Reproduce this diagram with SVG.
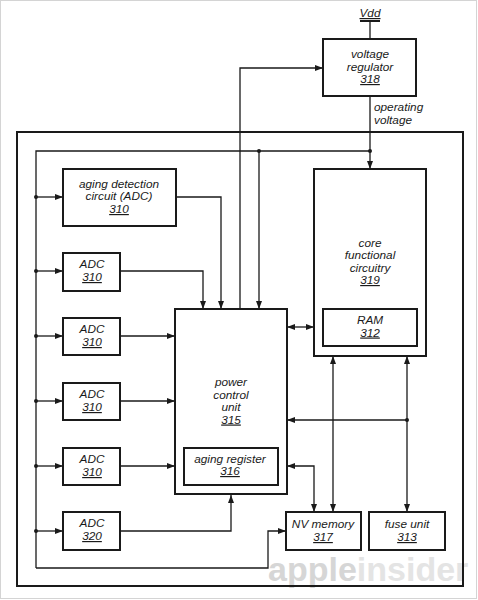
<svg xmlns="http://www.w3.org/2000/svg" width="478" height="600" viewBox="0 0 478 600">
<defs>
<marker id="ah" viewBox="0 0 8 6" refX="8" refY="3" markerWidth="8" markerHeight="6" markerUnits="userSpaceOnUse" orient="auto-start-reverse">
<path d="M0,0 L8,3 L0,6 z" fill="#1a1a1a"/>
</marker>
<style>
.box{fill:#fff;stroke:#1a1a1a;stroke-width:2}
.ln{fill:none;stroke:#1a1a1a;stroke-width:1.3}
.ar{marker-end:url(#ah)}
.bi{marker-start:url(#ah);marker-end:url(#ah)}
.dot{fill:#1a1a1a}
text{font-family:"Liberation Sans",Arial,sans-serif;font-style:italic;font-size:11.8px;fill:#1a1a1a;text-anchor:middle}
.u{text-decoration:underline}
.wm{font-style:normal;font-weight:bold;font-size:34px;text-anchor:start}
</style>
</defs>
<rect x="0" y="0" width="478" height="600" fill="#fff"/>
<rect x="0.5" y="0.5" width="476" height="598" fill="none" stroke="#d4d4d4" stroke-width="1"/>
<text class="wm" x="268" y="581"><tspan fill="#d6d6d6">apple</tspan><tspan fill="#e4e4e4">insider</tspan></text>
<g id="chip"><rect x="17" y="132" width="446" height="454" fill="none" stroke="#1a1a1a" stroke-width="2"/></g>
<g id="connectors">
<line class="ln" x1="360" y1="21" x2="380" y2="21" style="stroke-width:2"/>
<line class="ln" x1="370" y1="21" x2="370" y2="39"/>
<line class="ln ar" x1="370" y1="96" x2="370" y2="169"/>
<path class="ln" d="M36,568 V151 H370"/>
<line class="ln ar" x1="259" y1="151" x2="259" y2="309"/>
<path class="ln ar" d="M240,309 V68 H323"/>
<line class="ln ar" x1="36" y1="197" x2="63" y2="197"/>
<line class="ln ar" x1="36" y1="271" x2="63" y2="271"/>
<line class="ln ar" x1="36" y1="336" x2="63" y2="336"/>
<line class="ln ar" x1="36" y1="401" x2="63" y2="401"/>
<line class="ln ar" x1="36" y1="466" x2="63" y2="466"/>
<line class="ln ar" x1="36" y1="531" x2="63" y2="531"/>
<path class="ln ar" d="M176,197 H221 V309"/>
<path class="ln ar" d="M120,271 H203 V309"/>
<line class="ln ar" x1="120" y1="336" x2="175" y2="336"/>
<line class="ln ar" x1="120" y1="401" x2="175" y2="401"/>
<line class="ln ar" x1="120" y1="466" x2="175" y2="466"/>
<path class="ln ar" d="M120,531 H231 V495"/>
<line class="ln bi" x1="287" y1="327" x2="314" y2="327"/>
<line class="ln bi" x1="333" y1="356" x2="333" y2="512"/>
<line class="ln bi" x1="407" y1="356" x2="407" y2="512"/>
<line class="ln ar" x1="407" y1="420" x2="287" y2="420"/>
<path class="ln bi" d="M287,466 H314 V512"/>
<path class="ln ar" d="M36,568 H268 V531 H286"/>
<circle class="dot" cx="370" cy="151" r="2"/>
<circle class="dot" cx="259" cy="151" r="2"/>
<circle class="dot" cx="36" cy="197" r="2"/>
<circle class="dot" cx="36" cy="271" r="2"/>
<circle class="dot" cx="36" cy="336" r="2"/>
<circle class="dot" cx="36" cy="401" r="2"/>
<circle class="dot" cx="36" cy="466" r="2"/>
<circle class="dot" cx="36" cy="531" r="2"/>
<circle class="dot" cx="407" cy="420" r="2"/>
</g>
<g id="vdd"><text x="370" y="17" class="u">Vdd</text></g>
<g id="vr318"><rect class="box" x="323" y="39" width="93" height="57"/>
<text x="370" y="57.5">voltage</text><text x="370" y="70.5">regulator</text><text x="370" y="83" class="u">318</text></g>
<g id="oplabel"><text x="374" y="111" style="text-anchor:start">operating</text><text x="374" y="123.5" style="text-anchor:start">voltage</text></g>
<g id="adc-aging"><rect class="box" x="63" y="169" width="113" height="57"/>
<text x="119" y="187.5">aging detection</text><text x="119" y="200">circuit (ADC)</text><text x="119" y="213" class="u">310</text></g>
<g id="adc1"><rect class="box" x="63" y="253" width="57" height="38"/><text x="92" y="268">ADC</text><text x="92" y="281" class="u">310</text></g>
<g id="adc2"><rect class="box" x="63" y="318" width="57" height="37"/><text x="92" y="333">ADC</text><text x="92" y="346" class="u">310</text></g>
<g id="adc3"><rect class="box" x="63" y="383" width="57" height="37"/><text x="92" y="398">ADC</text><text x="92" y="411" class="u">310</text></g>
<g id="adc4"><rect class="box" x="63" y="448" width="57" height="37"/><text x="92" y="463">ADC</text><text x="92" y="476" class="u">310</text></g>
<g id="adc320"><rect class="box" x="63" y="512" width="57" height="38"/><text x="92" y="527">ADC</text><text x="92" y="540" class="u">320</text></g>
<g id="pcu"><rect class="box" x="175" y="309" width="112" height="185"/>
<text x="231" y="386">power</text><text x="231" y="398.5">control</text><text x="231" y="411">unit</text><text x="231" y="423.5" class="u">315</text></g>
<g id="agingreg"><rect class="box" x="184" y="448" width="94" height="37"/><text x="230" y="462.5">aging register</text><text x="230" y="475" class="u">316</text></g>
<g id="core"><rect class="box" x="314" y="169" width="112" height="187"/>
<text x="370" y="246.5">core</text><text x="370" y="259">functional</text><text x="370" y="271.5">circuitry</text><text x="370" y="284" class="u">319</text></g>
<g id="ram"><rect class="box" x="323" y="309" width="94" height="37"/><text x="370" y="323.5">RAM</text><text x="370" y="336.5" class="u">312</text></g>
<g id="nvmem"><rect class="box" x="286" y="512" width="75" height="38"/><text x="323" y="528">NV memory</text><text x="323" y="541" class="u">317</text></g>
<g id="fuse"><rect class="box" x="369" y="512" width="76" height="38"/><text x="407" y="528">fuse unit</text><text x="407" y="541" class="u">313</text></g>
</svg>
